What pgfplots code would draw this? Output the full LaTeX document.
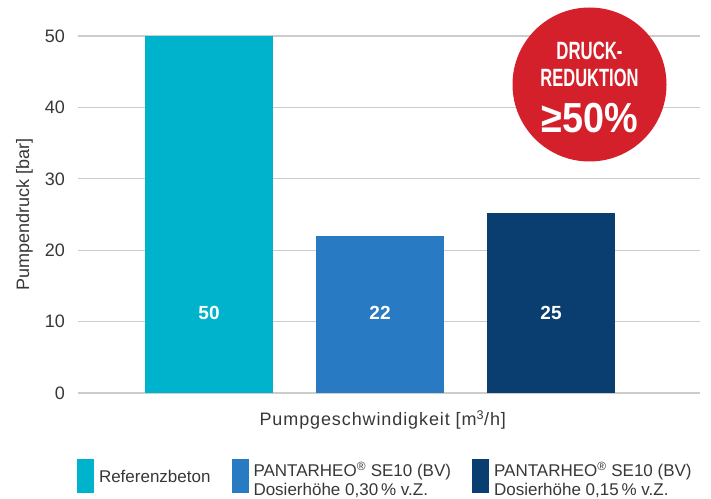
\documentclass[border=0pt]{standalone}
\usepackage{fontspec}
\setmainfont{Liberation Sans}
\usepackage{pgfplots}
\pgfplotsset{compat=1.18}
\definecolor{cA}{RGB}{0,179,204}
\definecolor{cB}{RGB}{40,122,194}
\definecolor{cC}{RGB}{10,62,112}
\definecolor{redc}{RGB}{211,32,42}
\definecolor{gridc}{RGB}{204,204,204}
\definecolor{txt}{RGB}{55,55,55}
\begin{document}
\begin{tikzpicture}
\begin{axis}[
  name=ax,
  scale only axis, width=622pt, height=357pt,
  xmin=-0.766, xmax=2.871, ymin=0, ymax=50,
  axis line style={draw=none},
  major tick length=0pt,
  xtick=\empty,
  ytick={0,10,20,30,40,50},
  ymajorgrids,
  grid style={gridc, line width=1.3pt},
  /pgf/number format/assume math mode=true,
  yticklabel style={font=\fontsize{18}{20}\selectfont, text=txt, inner sep=0pt, xshift=-13pt},
  xlabel={Pumpgeschwindigkeit [m\textsuperscript{3}/h]},
  xlabel style={at={(axis description cs:0.490,0)}, anchor=north, inner sep=0pt, yshift=-17pt,
    font=\fontsize{18}{20}\selectfont\addfontfeature{LetterSpace=5}, text=txt},
  ylabel={Pumpendruck [bar]},
  ylabel style={at={(axis description cs:-0.0723,0.5)}, anchor=south, inner sep=0pt,
    font=\fontsize{18}{20}\selectfont, text=txt},
  legend columns=3,
  legend cell align=left,
  legend style={draw=none, fill=none, inner sep=0pt, outer sep=0pt,
    at={(axis description cs:0,0)}, anchor=north west, yshift=-66pt, xshift=-1pt,
    font=\fontsize{17}{19}\selectfont, text=txt,
    nodes={inner sep=0pt},
    /tikz/every odd column/.append style={column sep=5pt},
    /tikz/every even column/.append style={column sep=21pt}},
]
\addplot[ybar, bar width=0.749, bar shift=0pt, fill=cA, draw=none,
  legend image code/.code={\fill[cA] (0pt,-17pt) rectangle (17pt,17pt);}]
  coordinates {(0,50)};
\addlegendentry{\raisebox{-1.5pt}{Referenzbeton}}
\addplot[ybar, bar width=0.749, bar shift=0pt, fill=cB, draw=none,
  legend image code/.code={\fill[cB] (0pt,-17pt) rectangle (17pt,17pt);}]
  coordinates {(1,22)};
\addlegendentry{\raisebox{2pt}{\begin{tabular}{@{}l@{}}PANTARHEO\textsuperscript{®} SE10 (BV)\\Dosierhöhe 0,30\,\% v.Z.\end{tabular}}}
\addplot[ybar, bar width=0.749, bar shift=0pt, fill=cC, draw=none,
  legend image code/.code={\fill[cC] (0pt,-17pt) rectangle (17pt,17pt);}]
  coordinates {(2,25.2)};
\addlegendentry{\raisebox{2pt}{\begin{tabular}{@{}l@{}}PANTARHEO\textsuperscript{®} SE10 (BV)\\Dosierhöhe 0,15\,\% v.Z.\end{tabular}}}
\addplot[only marks, mark=none, forget plot, point meta=explicit symbolic,
  nodes near coords,
  nodes near coords style={anchor=center, text=white, font=\fontsize{19}{20}\selectfont\bfseries}]
  coordinates {(0,11.2) [50] (1,11.2) [22] (2,11.2) [25]};
\end{axis}
\fill[redc] ([shift={(511.5pt,308.5pt)}]ax.south west) circle (77pt);
\node[text=white, inner sep=0pt, font=\fontsize{25}{25}\selectfont\bfseries] at ([shift={(511.5pt,342pt)}]ax.south west) {\scalebox{0.67}[1]{DRUCK-}};
\node[text=white, inner sep=0pt, font=\fontsize{25}{25}\selectfont\bfseries] at ([shift={(511.5pt,315.5pt)}]ax.south west) {\scalebox{0.66}[1]{REDUKTION}};
\node[text=white, inner sep=0pt, font=\fontsize{42}{42}\selectfont\bfseries] at ([shift={(511.5pt,275pt)}]ax.south west) {\scalebox{0.9}[1]{≥50\%}};
\pgfresetboundingbox
\path ([shift={(-78pt,-105pt)}]ax.south west) rectangle ([shift={(633pt,393pt)}]ax.south west);
\end{tikzpicture}
\end{document}
